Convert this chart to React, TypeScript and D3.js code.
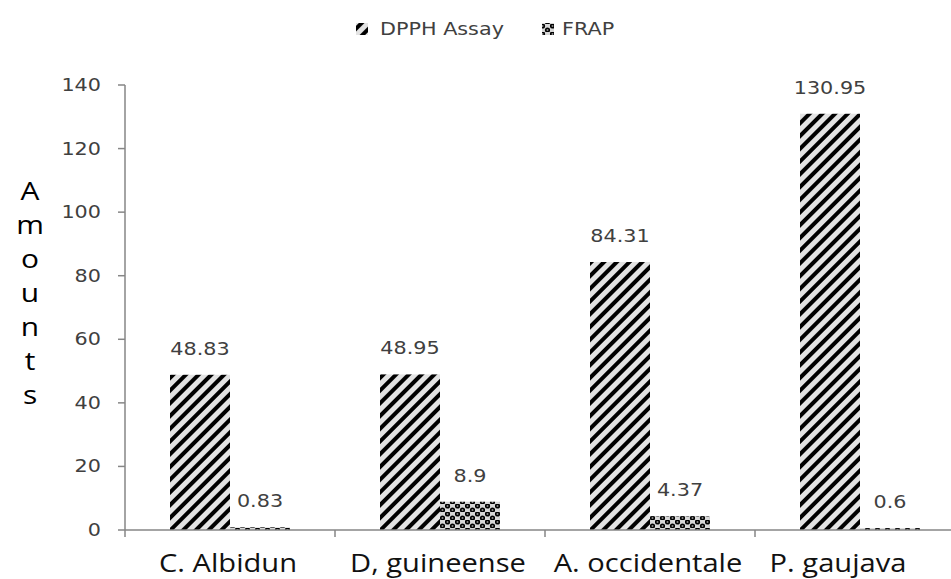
import React from "react";
import * as d3 from "d3";

const categories = ["C. Albidun", "D, guineense", "A. occidentale", "P. gaujava"];
const seriesNames = ["DPPH Assay", "FRAP"];
const dpphValues = [48.83, 48.95, 84.31, 130.95];
const frapValues = [0.83, 8.9, 4.37, 0.6];
const yTicks = [0, 20, 40, 60, 80, 100, 120, 140];
const yLabel = "Amounts";

const W = 951;
const H = 579;
const SX = 1.22; // the reference is stretched sideways

export default function App() {
  const x = d3.scaleBand<string>().domain(categories).range([125, 965]);
  const inner = d3
    .scaleBand<string>()
    .domain(seriesNames)
    .range([0, x.bandwidth()])
    .paddingOuter(0.75)
    .paddingInner(0);
  const y = d3.scaleLinear().domain([0, 140]).range([530, 85]);

  const rows = categories.map((c, i) => ({
    cat: c,
    vals: [dpphValues[i], frapValues[i]],
  }));
  const fills = ["url(#stripe)", "url(#dots)"];
  const numFont = "'DejaVu Sans', Verdana, sans-serif";
  const catFont = "'Open Sans', sans-serif";

  return (
    <svg width={W} height={H} style={{ position: "absolute", left: 0, top: 0, background: "#fff" }}>
      <defs>
        <pattern id="stripe" width="9" height="9" patternUnits="userSpaceOnUse" patternTransform="rotate(45)">
          <rect width="9" height="9" fill="#e3e3e3" />
          <rect x="0" y="0" width="4" height="9" fill="#000" />
        </pattern>
        <pattern id="dots" width="10" height="8" patternUnits="userSpaceOnUse">
          <rect width="10" height="8" fill="#d8d8d8" />
          <circle cx="2.5" cy="2" r="2.6" fill="#000" />
          <circle cx="7.5" cy="6" r="2.6" fill="#000" />
          <circle cx="2.5" cy="2" r="1" fill="#888" />
          <circle cx="7.5" cy="6" r="1" fill="#888" />
        </pattern>
      </defs>

      {/* legend */}
      <g fontFamily={numFont} fontSize={17} fill="#404040">
        <rect x={356} y={23} width={12} height={12} fill="url(#stripe)" />
        <text transform={`translate(380,35) scale(${SX},1)`}>{seriesNames[0]}</text>
        <rect x={542} y={23} width={12} height={12} fill="url(#dots)" />
        <text transform={`translate(562,35) scale(${SX},1)`}>{seriesNames[1]}</text>
      </g>

      {/* y axis label, stacked letters */}
      <g fontFamily={catFont} fontSize={26} fill="#000" textAnchor="middle">
        {yLabel.split("").map((ch, i) => (
          <text key={i} transform={`translate(30,${200 + i * 34}) scale(1.15,1)`}>{ch}</text>
        ))}
      </g>

      {/* y axis */}
      <line x1={125} x2={125} y1={y(140)} y2={y(0)} stroke="#868686" strokeWidth={1.5} />
      {yTicks.map((t) => (
        <g key={t}>
          <line x1={118} x2={125} y1={y(t)} y2={y(t)} stroke="#868686" strokeWidth={1.5} />
          <text
            transform={`translate(101,${y(t) + 6}) scale(${SX},1)`}
            textAnchor="end"
            fontFamily={numFont}
            fontSize={17}
            fill="#404040"
          >
            {t}
          </text>
        </g>
      ))}

      {/* bars */}
      {rows.map((r) => (
        <g key={r.cat} transform={`translate(${x(r.cat)},0)`}>
          {r.vals.map((v, j) => {
            const bx = inner(seriesNames[j])!;
            const bw = inner.bandwidth();
            return (
              <g key={j}>
                <rect x={bx} y={y(v)} width={bw} height={y(0) - y(v)} fill={fills[j]} />
                <text
                  transform={`translate(${bx + bw / 2},${y(v) - 20}) scale(${SX},1)`}
                  textAnchor="middle"
                  fontFamily={numFont}
                  fontSize={17}
                  fill="#404040"
                >
                  {v}
                </text>
              </g>
            );
          })}
        </g>
      ))}

      {/* x axis */}
      <line x1={125} x2={W} y1={y(0)} y2={y(0)} stroke="#868686" strokeWidth={1.5} />
      {categories.map((c) => (
        <line key={c} x1={x(c)!} x2={x(c)!} y1={y(0)} y2={y(0) + 7} stroke="#868686" strokeWidth={1.5} />
      ))}
      {categories.map((c, i) => {
        const cx = x(c)! + x.bandwidth() / 2;
        const shift = i === categories.length - 1 ? -22 : -2;
        return (
          <text
            key={c}
            transform={`translate(${cx + shift},${572}) scale(1.12,1)`}
            textAnchor="middle"
            fontFamily={catFont}
            fontSize={26}
            fill="#111"
          >
            {c}
          </text>
        );
      })}
    </svg>
  );
}
